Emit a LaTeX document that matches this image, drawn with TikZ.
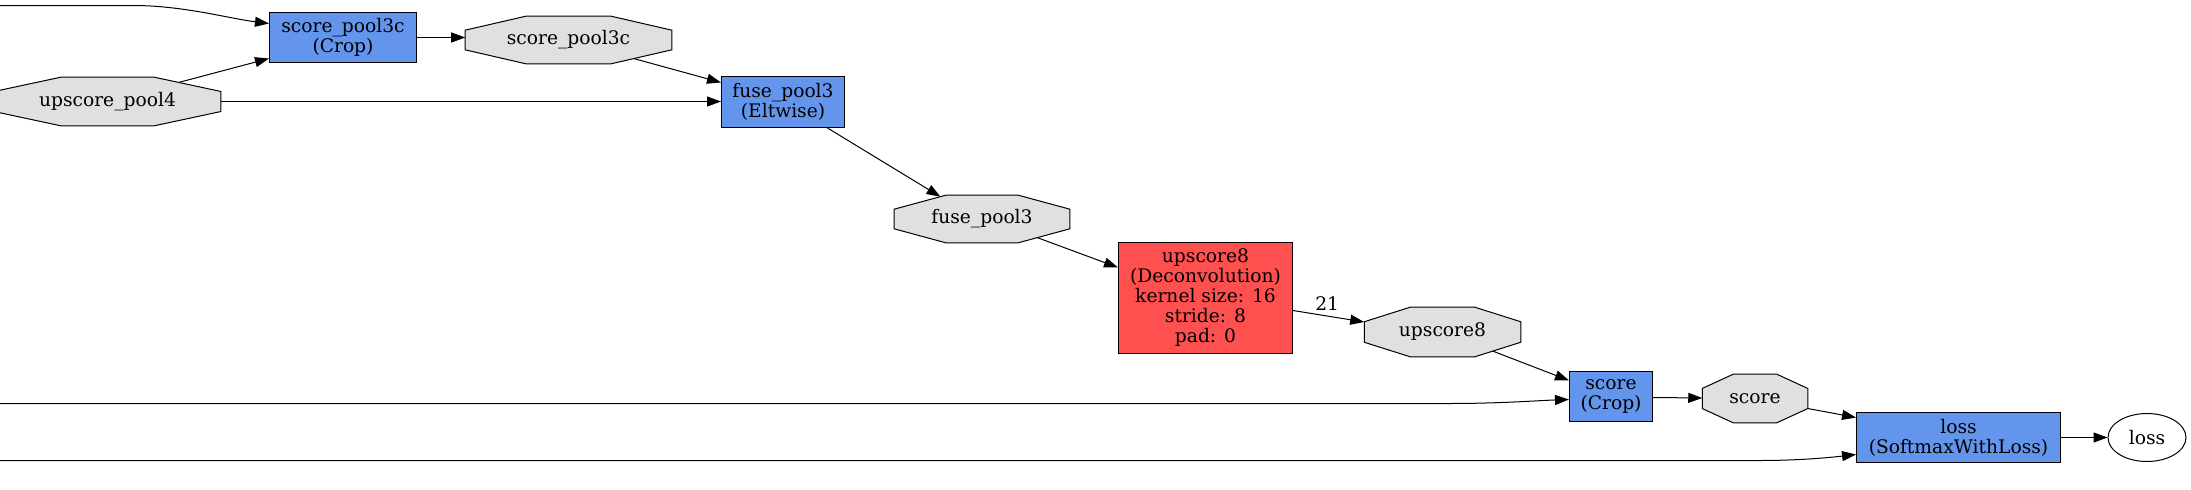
\documentclass[tikz,border=0pt]{standalone}
\usepackage{fontspec}
\setmainfont{DejaVu Serif}
\usetikzlibrary{shapes.geometric,arrows.meta,calc,backgrounds}
\definecolor{layerblue}{HTML}{6495ED}
\definecolor{layerred}{HTML}{FF5050}
\definecolor{blobgray}{HTML}{E0E0E0}
\newcommand\pxu{0.75pt}
\newcommand\blobshape[1]{%
  \draw[octo] ($(#1.north west)!0.293!(#1.north east)$) -- ($(#1.north west)!0.707!(#1.north east)$)
    -- ($(#1.north east)!0.293!(#1.south east)$) -- ($(#1.north east)!0.707!(#1.south east)$)
    -- ($(#1.south west)!0.707!(#1.south east)$) -- ($(#1.south west)!0.293!(#1.south east)$)
    -- ($(#1.north west)!0.707!(#1.south west)$) -- ($(#1.north west)!0.293!(#1.south west)$) -- cycle;}
\tikzset{
  txt/.style={inner sep=0pt, align=center, font=\fontsize{14pt}{15pt}\selectfont},
  layer/.style={txt, rectangle, draw=black, line width=0.75pt, fill=layerblue},
  deconv/.style={layer, fill=layerred},
  blob/.style={txt, rectangle},
  octo/.style={draw=black, line width=0.75pt, fill=blobgray},
  outblob/.style={txt, ellipse, draw=black, line width=0.75pt},
  conn/.style={draw=black, line width=0.75pt, -{Triangle[length=10.5pt,width=7.5pt]}},
}
\begin{document}
\begin{tikzpicture}[x=0.75pt,y=-0.75pt]
\useasboundingbox (0,0) rectangle (2191,489);
% layers
\node[layer, minimum width=147*\pxu, minimum height=50*\pxu] (sp3cbox) at (343,37.5) {score\_pool3c\\(Crop)};
\node[layer, minimum width=123*\pxu, minimum height=51*\pxu] (fusebox) at (783,102) {fuse\_pool3\\(Eltwise)};
\node[deconv, minimum width=174*\pxu, minimum height=111*\pxu] (upbox) at (1205.5,298) {upscore8\\(Deconvolution)\\kernel size: 16\\stride: 8\\pad: 0};
\node[layer, minimum width=83*\pxu, minimum height=50*\pxu] (scorebox) at (1611,396.5) {score\\(Crop)};
\node[layer, minimum width=204*\pxu, minimum height=50*\pxu] (lossbox) at (1958.5,437.5) {loss\\(SoftmaxWithLoss)};
% blobs
\node[blob, minimum width=226*\pxu, minimum height=48*\pxu] (up4) at (107.5,101.5) {upscore\_pool4};
\node[blob, minimum width=206*\pxu, minimum height=47*\pxu] (sp3c) at (568.5,40) {score\_pool3c};
\node[blob, minimum width=175*\pxu, minimum height=47*\pxu] (fuse) at (982,219) {fuse\_pool3};
\node[blob, minimum width=156*\pxu, minimum height=49*\pxu] (up8) at (1442.5,332) {upscore8};
\node[blob, minimum width=105*\pxu, minimum height=48*\pxu] (score) at (1755,398.5) {score};
\node[outblob, minimum width=78*\pxu, minimum height=48*\pxu] (loss) at (2147,437.5) {loss};
\begin{scope}[on background layer]
  \blobshape{up4}\blobshape{sp3c}\blobshape{fuse}\blobshape{up8}\blobshape{score}
\end{scope}
% free ends
\coordinate (in1) at (0,5.5);
\coordinate (in2) at (0,403.5);
\coordinate (in3) at (0,460.5);
% connectors
\draw[conn] (in1) -- ++(133,0) .. controls ++(50,0) and ($(sp3cbox.west)+(-40,-19)$) .. ($(sp3cbox.west)+(0,-14)$);
\draw[conn] ($(up4.center)+(71,-19)$) -- ($(sp3cbox.west)+(0,21)$);
\draw[conn] (up4.east) -- (up4.east -| fusebox.west);
\draw[conn] (sp3cbox.east) -- (sp3cbox.east -| sp3c.west);
\draw[conn] ($(sp3c.center)+(65,18.5)$) -- ($(fusebox.west)+(0,-19.5)$);
\draw[conn] ($(fusebox.south)+(44.5,0)$) -- ($(fuse.center)+(-41.5,-22.2)$);
\draw[conn] ($(fuse.center)+(55.5,18.7)$) -- ($(upbox.west)+(0,-30.5)$);
\draw[conn] ($(upbox.east)+(0,12.5)$) -- node[txt, pos=0.48, above=4pt] {21} ($(up8.west)+(0,-10)$);
\draw[conn] ($(up8.center)+(50,19)$) -- ($(scorebox.west)+(0,-16)$);
\draw[conn] (in2) -- ++(1450,0) .. controls ++(50,0) and ($(scorebox.west)+(-30,4)$) .. ($(scorebox.west)+(0,3)$);
\draw[conn] ($(scorebox.east)+(0,1)$) -- ($(score.west)+(0,-0.5)$);
\draw[conn] ($(score.east)+(0,10)$) -- ($(lossbox.west)+(0,-20)$);
\draw[conn] (in3) -- ++(1760,0) .. controls ++(40,0) and ($(lossbox.west)+(-26,20)$) .. ($(lossbox.west)+(0,17)$);
\draw[conn] (lossbox) -- (loss);
\end{tikzpicture}
\end{document}
